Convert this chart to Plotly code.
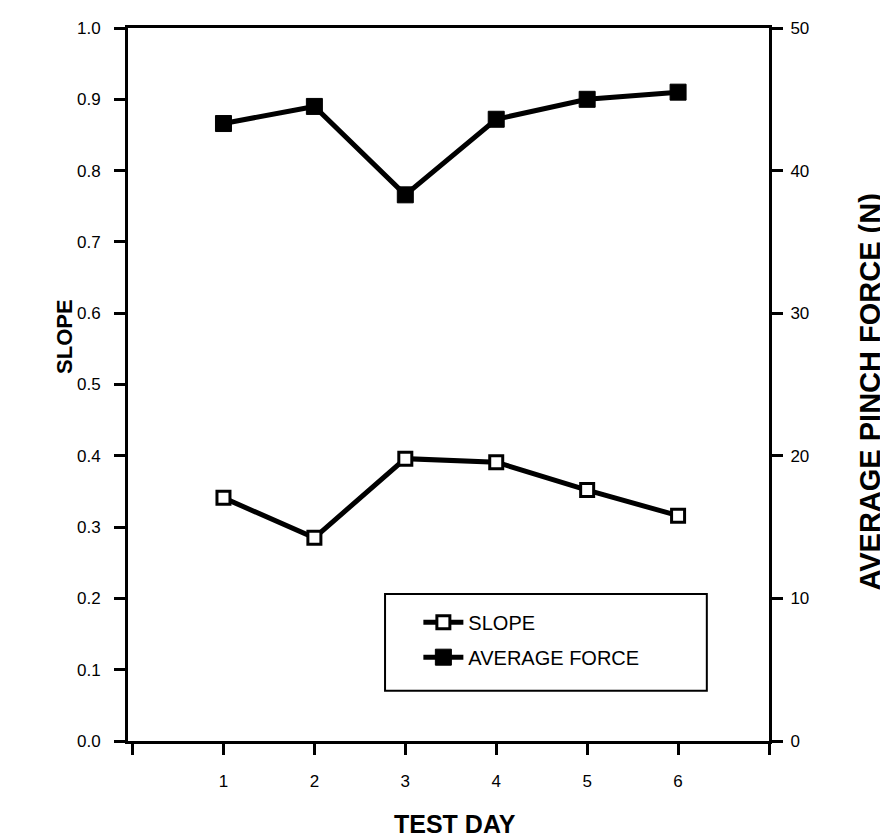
import plotly.graph_objects as go

# Data
test_day = [1, 2, 3, 4, 5, 6]
slope = [0.341, 0.285, 0.396, 0.391, 0.352, 0.316]
avg_force = [43.3, 44.5, 38.3, 43.6, 45.0, 45.5]

x_tickvals = [0, 1, 2, 3, 4, 5, 6, 7]
x_ticktext = ["", "1", "2", "3", "4", "5", "6", ""]
slope_ticks = [0.0, 0.1, 0.2, 0.3, 0.4, 0.5, 0.6, 0.7, 0.8, 0.9, 1.0]
force_ticks = [0, 10, 20, 30, 40, 50]

FONT = "Liberation Sans, Arial, Helvetica, sans-serif"

fig = go.Figure()
fig.add_trace(go.Scatter(
    x=test_day, y=slope, name="SLOPE", mode="lines+markers",
    legendgroup="a",
    line=dict(color="black", width=5),
    marker=dict(symbol="square", size=13, color="white",
                line=dict(color="black", width=3)),
    yaxis="y"))
fig.add_trace(go.Scatter(
    x=test_day, y=avg_force, name="AVERAGE FORCE", mode="lines+markers",
    legendgroup="b",
    line=dict(color="black", width=5),
    marker=dict(symbol="square", size=16, color="black",
                line=dict(color="black", width=1)),
    yaxis="y2"))

axis_font = dict(family=FONT, size=17, color="black")

fig.update_layout(
    width=880, height=832,
    margin=dict(l=120, r=119, t=11, b=99),
    paper_bgcolor="white", plot_bgcolor="white",
    font=dict(family=FONT, color="black"),
    showlegend=True,
    legend=dict(x=0.453, y=0.194, xanchor="left", yanchor="top",
                bgcolor="rgba(0,0,0,0)", borderwidth=0,
                font=dict(family=FONT, size=20, color="black"),
                itemwidth=40, tracegroupgap=6),
    xaxis=dict(range=[-0.05, 7.0], tickvals=x_tickvals, ticktext=x_ticktext,
               showline=True, linecolor="black", linewidth=3, mirror=True,
               ticks="outside", ticklen=11, tickwidth=3, tickcolor="black",
               showgrid=False, zeroline=False, tickfont=axis_font,
               ticklabelstandoff=12),
    yaxis=dict(range=[0, 1.0], tickvals=slope_ticks, tickformat=".1f",
               showline=True, linecolor="black", linewidth=3,
               ticks="outside", ticklen=11, tickwidth=3, tickcolor="black",
               showgrid=False, zeroline=False, tickfont=axis_font,
               ticklabelstandoff=10),
    yaxis2=dict(range=[0, 50], tickvals=force_ticks, overlaying="y", side="right",
                showline=True, linecolor="black", linewidth=3,
                ticks="outside", ticklen=11, tickwidth=3, tickcolor="black",
                showgrid=False, zeroline=False, tickfont=axis_font,
                ticklabelstandoff=4),
    shapes=[dict(type="rect", xref="paper", yref="paper",
                 x0=0.401, x1=0.903, y0=0.0706, y1=0.206,
                 line=dict(color="black", width=2), fillcolor="rgba(0,0,0,0)")],
    annotations=[
        dict(text="<b>TEST DAY</b>", xref="paper", yref="paper", x=0.51, y=-0.116,
             xanchor="center", yanchor="middle", showarrow=False,
             font=dict(family=FONT, size=25, color="black")),
        dict(text="<b>SLOPE</b>", xref="paper", yref="paper", x=-0.1, y=0.568,
             xanchor="center", yanchor="middle", showarrow=False, textangle=-90,
             font=dict(family=FONT, size=22, color="black")),
        dict(text="<b>AVERAGE PINCH FORCE (N)</b>", xref="paper", yref="paper",
             x=1.1575, y=0.49, xanchor="center", yanchor="middle", showarrow=False,
             textangle=-90, font=dict(family=FONT, size=29, color="black")),
    ],
)

fig.write_html("out.html")
